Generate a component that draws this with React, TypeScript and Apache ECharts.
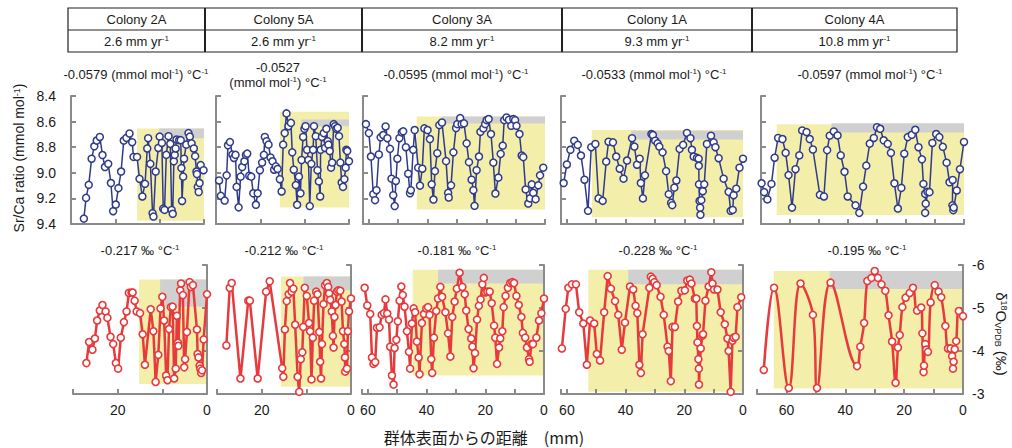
import React, { useEffect, useRef } from "react";
import * as echarts from "echarts";

// ---------- DATA ----------
const colonies = ["Colony 2A", "Colony 5A", "Colony 3A", "Colony 1A", "Colony 4A"];
const growthRates = ["2.6", "2.6", "8.2", "9.3", "10.8"];
const srcaSlopes = ["-0.0579", "-0.0527", "-0.0595", "-0.0533", "-0.0597"];
const d18oSlopes = ["-0.217", "-0.212", "-0.181", "-0.228", "-0.195"];
const xMax = [30, 30, 62, 62, 70];
const srcaRange = [8.4, 9.4];
const d18oRange = [-6, -3];

// Sr/Ca [distance mm, mmol/mol]
const srca2A = [[27.1,9.358],[26.6,9.196],[26.0,9.094],[25.35,8.89],[24.75,8.793],[24.2,8.748],[23.5,8.72],[22.9,8.861],[22.35,8.955],[21.6,8.93],[21.0,9.08],[20.5,9.3],[19.9,9.248],[19.3,9.12],[18.7,8.99],[18.1,8.748],[17.5,8.727],[16.8,8.693],[16.2,8.761],[15.9,8.876],[15.1,8.876],[14.55,9.047],[13.9,9.185],[13.3,9.086],[12.8,8.81],[12.6,8.73],[12.1,8.93],[11.6,9.316],[11.4,9.342],[10.9,8.99],[10.3,8.806],[10.0,8.717],[9.5,8.767],[9.2,9.28],[8.9,9.29],[8.5,8.86],[8.0,8.714],[7.6,8.774],[7.3,9.29],[7.05,9.32],[6.8,8.91],[6.6,8.86],[6.4,8.81],[6.2,8.74],[5.6,8.745],[5.25,8.745],[5.1,8.963],[4.95,9.22],[4.7,9.03],[4.5,8.89],[4.0,8.78],[3.5,8.69],[3.2,8.717],[2.8,8.77],[2.3,8.81],[2.0,8.87],[1.7,8.99],[1.6,9.01],[1.4,9.11],[1.2,9.15],[1.0,9.08],[0.75,8.94],[0.1,8.98]];
const srca5A = [[29.3,9.06],[28.9,9.18],[28.05,9.217],[27.6,9.02],[27.3,8.785],[26.85,8.76],[26.3,8.858],[25.95,8.884],[25.6,8.86],[25.35,9.11],[24.9,9.27],[24.45,9.03],[24.1,8.955],[23.6,8.91],[23.25,8.86],[22.95,8.85],[22.5,9.023],[22.05,9.03],[21.6,9.16],[21.0,9.25],[20.6,9.16],[20.1,8.98],[19.6,8.92],[19.2,8.86],[18.98,8.72],[18.6,8.753],[18.15,8.78],[17.7,8.88],[17.25,8.91],[16.9,8.976],[16.5,8.95],[16.1,8.97],[15.6,9.05],[15.2,9.146],[14.85,8.78],[14.5,8.69],[14.1,8.536],[13.65,8.636],[13.1,8.61],[12.8,8.84],[12.45,8.976],[12.0,9.096],[11.7,9.25],[11.3,9.03],[10.95,9.16],[10.7,8.9],[10.35,8.72],[10.05,8.656],[9.8,8.636],[9.45,8.82],[9.15,8.9],[8.85,9.26],[8.5,8.93],[8.1,8.82],[7.9,8.636],[7.5,8.714],[7.1,8.98],[6.8,9.067],[6.5,9.185],[6.4,8.82],[6.1,8.72],[5.7,8.69],[5.4,8.806],[5.1,8.656],[4.8,8.753],[4.65,8.78],[4.35,8.83],[4.05,8.96],[3.8,8.92],[3.45,8.62],[3.15,8.636],[2.85,8.656],[2.55,8.649],[2.25,8.714],[1.95,8.92],[1.65,9.076],[1.35,9.11],[1.05,9.05],[0.75,8.96],[0.6,8.82],[0.4,8.83],[0.0,8.91]];
const srca3A = [[61.0,8.62],[60.0,8.69],[59.3,8.873],[58.5,9.167],[57.9,9.214],[57.4,9.136],[56.6,8.857],[56.0,8.723],[55.1,8.705],[54.3,8.638],[53.7,8.73],[52.8,8.813],[52.3,9.046],[51.7,9.175],[51.2,9.26],[50.8,9.064],[50.3,8.89],[49.6,8.73],[48.8,8.684],[48.3,8.676],[47.4,8.8],[46.6,9.007],[46.0,9.16],[45.7,9.136],[44.9,8.82],[44.4,8.666],[43.2,8.96],[42.6,9.1],[41.8,8.968],[41.1,8.653],[40.0,8.666],[39.2,8.736],[38.6,9.09],[38.0,9.209],[37.5,8.987],[36.7,8.847],[36.0,8.627],[35.1,8.607],[33.7,8.909],[33.0,9.157],[32.8,9.193],[32.0,9.098],[31.2,8.84],[30.3,8.65],[29.9,8.62],[28.9,8.573],[28.4,8.62],[27.6,8.614],[26.7,8.77],[25.9,8.917],[25.0,9.054],[24.4,9.136],[24.0,9.258],[23.3,8.98],[22.5,8.873],[22.0,8.68],[21.0,8.653],[20.4,8.62],[19.9,8.589],[19.2,8.58],[18.4,8.697],[17.6,8.92],[16.9,9.162],[15.9,9.038],[15.1,8.852],[14.4,8.788],[13.9,8.589],[13.1,8.568],[12.3,8.586],[11.5,8.633],[10.8,8.58],[10.2,8.589],[9.7,8.633],[8.7,8.697],[7.95,8.865],[7.4,8.878],[6.6,9.13],[5.7,9.24],[5.1,9.2],[4.5,9.09],[4.0,9.157],[3.2,9.206],[2.3,9.098],[1.7,9.02],[0.6,8.96]];
const srca1A = [[61.1,9.08],[60.0,8.935],[58.8,8.82],[57.5,8.749],[56.3,8.782],[55.2,8.865],[54.0,9.054],[52.8,9.297],[51.7,8.8],[50.3,8.775],[49.2,9.2],[47.8,9.219],[46.6,8.912],[45.8,8.757],[44.3,8.762],[43.2,8.873],[42.0,8.968],[40.7,9.046],[39.5,8.904],[37.8,8.73],[37.0,8.795],[36.1,8.937],[35.2,8.89],[34.8,9.08],[34.1,9.2],[33.4,9.02],[31.2,8.697],[30.7,8.705],[29.9,8.749],[29.1,8.77],[28.5,8.795],[27.4,8.84],[26.2,8.987],[25.3,9.167],[24.5,9.235],[24.1,9.253],[23.4,9.116],[22.7,9.06],[21.6,8.813],[20.4,8.782],[19.1,8.689],[17.9,8.73],[17.4,8.82],[16.8,8.873],[15.7,8.883],[15.1,8.89],[15.05,8.945],[15.0,9.09],[14.8,9.22],[14.6,9.273],[14.5,9.328],[14.2,9.214],[13.7,9.144],[13.2,9.09],[12.3,8.775],[10.9,8.71],[10.0,8.762],[9.4,8.8],[8.3,8.886],[6.6,9.046],[4.9,9.149],[4.2,9.297],[3.5,9.29],[3.2,9.175],[2.3,9.124],[1.2,8.96],[0.0,8.89]];
const srca4A = [[69.8,9.082],[68.9,9.151],[67.8,9.208],[66.4,9.087],[65.3,8.882],[64.1,8.728],[62.6,8.736],[61.5,8.844],[60.5,9.018],[59.3,9.272],[58.1,8.972],[56.8,8.864],[55.8,8.669],[54.3,8.682],[53.2,8.736],[52.1,8.818],[49.7,9.172],[48.3,9.185],[47.2,8.823],[46.3,8.71],[44.9,8.677],[43.6,8.708],[42.5,8.864],[41.2,8.992],[40.1,9.185],[37.4,9.254],[36.1,9.313],[34.8,9.108],[33.7,8.944],[32.5,8.772],[31.1,8.728],[30.0,8.644],[28.9,8.656],[27.7,8.746],[26.3,8.774],[25.2,8.844],[24.0,9.082],[22.8,9.279],[21.6,9.118],[20.6,8.851],[19.4,8.721],[18.0,8.703],[16.8,8.664],[15.7,8.8],[14.5,8.895],[14.0,9.087],[13.4,9.164],[13.2,9.241],[13.4,9.313],[12.6,9.149],[11.9,9.151],[10.9,8.767],[9.6,8.697],[8.5,8.721],[7.3,8.797],[6.0,8.921],[5.0,9.074],[3.9,9.056],[4.0,9.254],[3.7,9.292],[3.55,9.272],[2.5,9.138],[1.4,8.972],[0.0,8.759]];

// δ18O [distance mm, permil]
const d18o2A = [[27.0,-3.72],[26.4,-4.21],[25.65,-4.03],[25.1,-4.29],[24.6,-4.71],[24.0,-4.94],[23.4,-5.07],[22.7,-4.92],[22.3,-4.77],[21.6,-4.33],[21.0,-4.16],[20.4,-3.72],[19.9,-3.59],[19.3,-4.31],[18.6,-4.67],[18.0,-4.92],[17.5,-5.35],[16.9,-5.36],[16.65,-5.36],[16.2,-5.17],[15.75,-4.92],[15.0,-4.88],[14.4,-4.39],[13.9,-3.68],[12.6,-4.97],[12.0,-4.46],[11.5,-3.28],[10.9,-3.91],[10.4,-4.99],[10.0,-5.26],[9.6,-4.71],[9.15,-3.43],[8.85,-3.32],[8.5,-4.51],[8.1,-5.02],[7.7,-5.03],[7.35,-3.36],[7.0,-3.59],[6.75,-4.82],[6.5,-4.19],[6.4,-4.12],[6.0,-5.41],[5.8,-5.57],[5.4,-5.3],[5.1,-3.62],[4.9,-3.81],[4.5,-4.44],[3.9,-5.6],[3.6,-5.49],[3.15,-5.53],[2.25,-4.5],[2.1,-3.93],[1.9,-3.85],[1.65,-3.66],[1.5,-3.59],[1.3,-3.49],[1.1,-3.55],[0.75,-4.27],[0.0,-5.32]];
const d18o5A = [[27.9,-4.13],[27.15,-5.47],[26.7,-5.58],[24.75,-3.36],[23.0,-5.17],[22.65,-5.17],[20.9,-3.36],[19.0,-5.38],[18.2,-5.62],[15.4,-3.6],[15.15,-3.4],[14.8,-4.5],[14.4,-5.16],[13.95,-5.32],[13.65,-5.58],[13.3,-5.38],[12.9,-5.45],[12.5,-4.61],[11.95,-3.4],[11.6,-3.05],[11.25,-3.81],[10.9,-3.97],[10.7,-4.56],[10.35,-5.47],[9.9,-5.28],[9.4,-4.65],[9.15,-4.46],[8.85,-3.34],[8.55,-4.31],[8.25,-5.17],[7.8,-5.38],[7.5,-5.32],[7.1,-4.44],[6.9,-3.75],[6.7,-3.36],[6.5,-4.16],[6.15,-5.09],[5.8,-5.53],[5.4,-5.58],[5.1,-5.49],[4.9,-5.34],[4.65,-5.19],[4.3,-4.92],[4.05,-4.35],[3.9,-4.08],[3.7,-4.79],[3.45,-5.07],[3.15,-5.38],[2.85,-5.41],[2.4,-5.4],[2.1,-5.15],[1.8,-4.46],[1.5,-4.16],[1.35,-3.85],[1.3,-3.52],[0.9,-3.59],[0.7,-4.46],[0.45,-4.92],[0.0,-5.22]];
const d18o3A = [[61.1,-5.47],[60.2,-5.06],[59.2,-4.86],[58.6,-3.85],[58.1,-3.7],[57.5,-3.74],[56.9,-4.54],[56.0,-4.55],[55.3,-4.84],[54.5,-4.88],[54.0,-5.2],[53.4,-4.87],[52.8,-4.73],[52.4,-4.1],[51.8,-3.43],[51.25,-3.22],[50.9,-4.07],[50.3,-4.26],[49.8,-4.69],[49.2,-5.17],[48.6,-5.5],[48.1,-5.3],[47.5,-5.03],[46.7,-4.46],[46.0,-3.98],[45.6,-3.59],[45.0,-4.64],[44.4,-4.99],[43.9,-4.9],[43.3,-4.22],[42.7,-3.85],[42.4,-3.46],[41.6,-4.65],[40.9,-4.86],[40.1,-4.99],[39.5,-5.02],[39.0,-4.84],[38.4,-3.81],[38.1,-3.49],[37.5,-4.31],[36.7,-4.93],[36.1,-5.22],[35.3,-5.49],[34.7,-5.26],[33.6,-4.9],[32.7,-4.41],[31.9,-3.87],[31.25,-4.79],[30.45,-5.15],[29.7,-5.45],[28.75,-5.82],[27.8,-5.49],[27.0,-5.32],[26.5,-4.94],[25.7,-4.51],[24.8,-4.29],[24.4,-4.1],[24.0,-3.6],[23.5,-3.95],[22.8,-4.73],[22.2,-5.05],[21.6,-5.2],[21.0,-5.55],[20.5,-5.7],[20.0,-5.36],[19.3,-5.38],[18.5,-5.38],[17.8,-5.11],[17.0,-4.59],[16.6,-4.31],[16.0,-3.7],[15.3,-4.08],[14.9,-4.29],[14.2,-4.46],[13.75,-5.02],[13.1,-5.28],[12.3,-5.47],[11.5,-5.58],[10.8,-5.6],[10.2,-5.58],[9.4,-5.28],[8.6,-5.07],[7.7,-4.79],[7.2,-4.42],[6.4,-4.31],[5.8,-4.08],[5.1,-3.81],[4.9,-3.75],[4.3,-4.16],[3.75,-4.16],[2.6,-4.31],[1.7,-4.71],[0.9,-4.88],[0.0,-5.22]];
const d18o1A = [[61.7,-4.06],[60.4,-4.98],[59.5,-5.47],[58.3,-5.55],[56.9,-5.55],[55.8,-4.9],[54.4,-4.64],[53.2,-3.68],[52.1,-4.71],[50.7,-4.64],[49.8,-3.93],[48.7,-3.78],[47.3,-4.9],[46.1,-5.74],[45.0,-5.45],[43.6,-5.16],[42.5,-4.84],[41.3,-4.03],[40.2,-4.66],[38.5,-5.5],[37.4,-5.43],[36.6,-5.05],[36.0,-4.88],[35.3,-3.68],[34.8,-3.49],[34.2,-4.39],[31.9,-5.47],[31.4,-5.73],[30.8,-5.68],[30.2,-5.6],[29.4,-5.53],[28.1,-5.26],[27.0,-4.84],[25.7,-4.1],[25.3,-4.0],[24.6,-3.3],[24.0,-4.56],[23.2,-4.56],[22.1,-5.15],[21.0,-5.4],[19.8,-5.41],[19.0,-5.64],[18.1,-5.66],[17.55,-5.57],[16.4,-5.22],[15.9,-5.22],[15.7,-4.58],[15.5,-4.2],[15.2,-3.81],[15.05,-3.59],[15.0,-3.22],[14.4,-4.06],[13.8,-4.36],[13.6,-4.39],[12.8,-5.17],[11.7,-5.5],[10.8,-5.83],[10.4,-5.57],[9.85,-5.43],[8.7,-5.43],[7.6,-4.9],[6.2,-4.62],[5.3,-4.29],[4.9,-4.0],[4.2,-3.05],[3.6,-4.24],[3.2,-4.31],[2.5,-4.33],[1.9,-5.02],[0.6,-5.25]];
const d18o4A = [[67.7,-3.56],[64.2,-5.47],[59.2,-3.14],[55.2,-5.57],[51.0,-4.84],[49.6,-3.14],[45.0,-5.59],[36.0,-3.65],[34.9,-4.1],[33.6,-4.65],[32.5,-5.63],[31.1,-5.7],[30.0,-5.86],[28.9,-5.7],[27.7,-5.55],[26.4,-5.4],[25.3,-4.83],[24.1,-4.22],[22.9,-3.26],[22.1,-4.08],[21.5,-4.37],[20.6,-5.02],[19.5,-5.24],[18.1,-5.35],[17.0,-5.47],[15.6,-4.94],[14.2,-5.01],[13.8,-4.41],[13.4,-3.51],[13.25,-3.66],[12.8,-4.16],[12.5,-4.03],[11.9,-3.98],[11.0,-5.13],[9.6,-5.53],[8.3,-5.38],[7.4,-5.25],[6.0,-4.58],[5.1,-4.06],[4.2,-4.06],[3.7,-3.88],[3.4,-3.59],[3.2,-3.75],[2.8,-4.04],[2.3,-4.23],[1.4,-4.93],[0.0,-4.81]];

const srcaSeries = [srca2A, srca5A, srca3A, srca1A, srca4A];
const d18oSeries = [d18o2A, d18o5A, d18o3A, d18o1A, d18o4A];

// shaded windows: [xFrom, xTo, yFrom, yTo]
const srcaYellow = [[15.1,0,8.654,9.374],[15.6,0,8.523,9.272],[43.7,0,8.56,9.286],[51.5,0,8.666,9.348],[64.6,0,8.62,9.33]];
const srcaGray = [[10.1,0,8.654,8.73],[10.7,0,8.583,8.636],[35.2,0,8.56,8.614],[38.1,0,8.671,8.739],[45.7,0,8.613,8.685]];
const d18oYellow = [[15.2,0,-5.66,-3.23],[15.7,0,-5.73,-3.17],[44.7,0,-5.89,-3.43],[52.7,0,-5.89,-3.05],[64.3,0,-5.86,-3.13]];
const d18oGray = [[10.5,0,-5.66,-5.03],[10.65,0,-5.73,-5.41],[36.1,0,-5.89,-5.57],[39.1,0,-5.89,-5.55],[45.3,0,-5.86,-5.44]];

// ---------- STYLE / LAYOUT ----------
const SANS = '"Liberation Sans", Arial, Helvetica, sans-serif';
const JP = '"Noto Sans CJK JP", sans-serif';
const BLUE = "#2f3a8a";
const RED = "#e63a3c";
const YELLOW = "#f3efaa";
const GRAY = "#d0d0d0";
const AXIS = "#8a8a8a";
const TXT = "#1a1a1a";

const topGrid = [{ left: 71, width: 133 }, { left: 216, width: 133 }, { left: 363, width: 182 }, { left: 561, width: 182 }, { left: 761, width: 203 }];
const botGrid = [{ left: 73, width: 134 }, { left: 217, width: 134 }, { left: 362, width: 182 }, { left: 561, width: 182 }, { left: 757, width: 206 }];
const TOP_Y = 96, TOP_H = 128, BOT_Y = 265, BOT_H = 129;
const tableCols = [68, 205, 362, 562, 752, 957];
const srcaNoteX = [136, 278, 456, 654, 870];
const d18oNoteX = [140, 284, 457, 658, 867];

const supRich = (size: number) => ({
  sup: { fontSize: size, fontFamily: SANS, fill: TXT, verticalAlign: "top" },
  sub: { fontSize: size, fontFamily: SANS, fill: TXT, verticalAlign: "bottom" },
});

const txt = (x: number, y: number, text: string, size = 13, extra: any = {}) => ({
  type: "text",
  x,
  y,
  silent: true,
  ...extra,
  style: {
    text,
    fontSize: size,
    fontFamily: SANS,
    fill: TXT,
    align: "center",
    verticalAlign: "middle",
    rich: supRich(Math.round(size * 0.62)),
    ...(extra.style || {}),
  },
});

function area(box: number[], color: string) {
  return [
    { coord: [box[0], box[2]], itemStyle: { color } },
    { coord: [box[1], box[3]] },
  ];
}

function axisCommon() {
  return {
    axisLine: { show: true, onZero: false, lineStyle: { color: AXIS, width: 2 } },
    axisTick: { show: true, inside: true, length: 5, lineStyle: { color: AXIS, width: 2 } },
    splitLine: { show: false },
    z: 4,
  };
}

export default function App() {
  const ref = useRef<HTMLDivElement>(null);
  useEffect(() => {
    document.body.style.margin = "0";
    const chart = echarts.init(ref.current!, null, { renderer: "svg" });
    const grids: any[] = [];
    const xAxes: any[] = [];
    const yAxes: any[] = [];
    const series: any[] = [];
    for (let i = 0; i < 5; i++) {
      grids.push({ left: topGrid[i].left, width: topGrid[i].width, top: TOP_Y, height: TOP_H });
      xAxes.push({
        type: "value", gridIndex: i, min: 0, max: xMax[i], interval: 10, inverse: true,
        ...axisCommon(), axisLabel: { show: false },
      });
      yAxes.push({
        type: "value", gridIndex: i, min: srcaRange[0], max: srcaRange[1], interval: 0.2, inverse: true,
        position: "left", ...axisCommon(),
        axisLabel: {
          show: i === 0, margin: 15, fontSize: 14, fontFamily: SANS, color: TXT,
          formatter: (v: number) => v.toFixed(1),
        },
      });
      series.push({
        type: "line", xAxisIndex: i, yAxisIndex: i, data: srcaSeries[i],
        symbol: "circle", symbolSize: 7, showAllSymbol: true, clip: false, z: 5, silent: true,
        lineStyle: { color: BLUE, width: 1.5 },
        itemStyle: { color: "#fff", borderColor: BLUE, borderWidth: 1.5 },
        emphasis: { disabled: true },
        markArea: {
          silent: true, z: 1,
          data: [area(srcaYellow[i], YELLOW), area(srcaGray[i], GRAY)],
        },
      });
    }
    for (let i = 0; i < 5; i++) {
      const k = i + 5;
      grids.push({ left: botGrid[i].left, width: botGrid[i].width, top: BOT_Y, height: BOT_H });
      xAxes.push({
        type: "value", gridIndex: k, min: 0, max: xMax[i], interval: 10, inverse: true,
        ...axisCommon(),
        axisLabel: {
          show: true, margin: 9, fontSize: 14, fontFamily: SANS, color: TXT,
          formatter: (v: number) => (v % 20 === 0 ? String(v) : ""),
        },
      });
      yAxes.push({
        type: "value", gridIndex: k, min: d18oRange[0], max: d18oRange[1], interval: 1, inverse: true,
        position: "right", ...axisCommon(),
        axisLabel: {
          show: i === 4, margin: 9, fontSize: 14, fontFamily: SANS, color: TXT,
          formatter: (v: number) => String(v),
        },
      });
      series.push({
        type: "line", xAxisIndex: k, yAxisIndex: k, data: d18oSeries[i],
        smooth: i === 4 ? 0.4 : false,
        symbol: "circle", symbolSize: 7, showAllSymbol: true, clip: false, z: 5, silent: true,
        lineStyle: { color: RED, width: 2.5 },
        itemStyle: { color: "#fff", borderColor: RED, borderWidth: 1.6 },
        emphasis: { disabled: true },
        markArea: {
          silent: true, z: 1,
          data: [area(d18oYellow[i], YELLOW), area(d18oGray[i], GRAY)],
        },
      });
    }

    const graphic: any[] = [];
    // table
    graphic.push({
      type: "rect", silent: true,
      shape: { x: tableCols[0], y: 8, width: tableCols[5] - tableCols[0], height: 44 },
      style: { fill: "none", stroke: "#222", lineWidth: 1.2 },
    });
    graphic.push({
      type: "line", silent: true,
      shape: { x1: tableCols[0], y1: 30, x2: tableCols[5], y2: 30 },
      style: { stroke: "#222", lineWidth: 1 },
    });
    for (let c = 1; c < 5; c++) {
      graphic.push({
        type: "line", silent: true,
        shape: { x1: tableCols[c], y1: 8, x2: tableCols[c], y2: 52 },
        style: { stroke: "#222", lineWidth: 2 },
      });
    }
    for (let c = 0; c < 5; c++) {
      const cx = (tableCols[c] + tableCols[c + 1]) / 2;
      graphic.push(txt(cx, 19, colonies[c], 13));
      graphic.push(txt(cx, 41, `${growthRates[c]} mm yr{sup|-1}`, 13));
    }
    // slope notes
    for (let c = 0; c < 5; c++) {
      if (c === 1) {
        graphic.push(txt(srcaNoteX[c], 67, srcaSlopes[c], 13));
        graphic.push(txt(srcaNoteX[c], 82, "(mmol mol{sup|-1}) °C{sup|-1}", 13));
      } else {
        graphic.push(txt(srcaNoteX[c], 74, `${srcaSlopes[c]} (mmol mol{sup|-1}) °C{sup|-1}`, 13));
      }
      graphic.push(txt(d18oNoteX[c], 250, `${d18oSlopes[c]} ‰ °C{sup|-1}`, 13));
    }
    // axis titles
    graphic.push(txt(19, 158, "Sr/Ca ratio (mmol mol{sup|-1})", 14, { rotation: Math.PI / 2 }));
    graphic.push(txt(1001, 334, "δ{sup|18}O{sub|VPDB} (‰)", 15, { rotation: -Math.PI / 2 }));
    graphic.push({
      type: "text", x: 484, y: 437, silent: true,
      style: {
        text: "群体表面からの距離　(mm)", fontSize: 16, fontFamily: JP, fill: TXT,
        align: "center", verticalAlign: "middle",
      },
    });

    chart.setOption({
      animation: false,
      backgroundColor: "#ffffff",
      grid: grids,
      xAxis: xAxes,
      yAxis: yAxes,
      series,
      graphic,
    });
    return () => chart.dispose();
  }, []);
  return <div ref={ref} style={{ width: 1012, height: 448 }} />;
}
